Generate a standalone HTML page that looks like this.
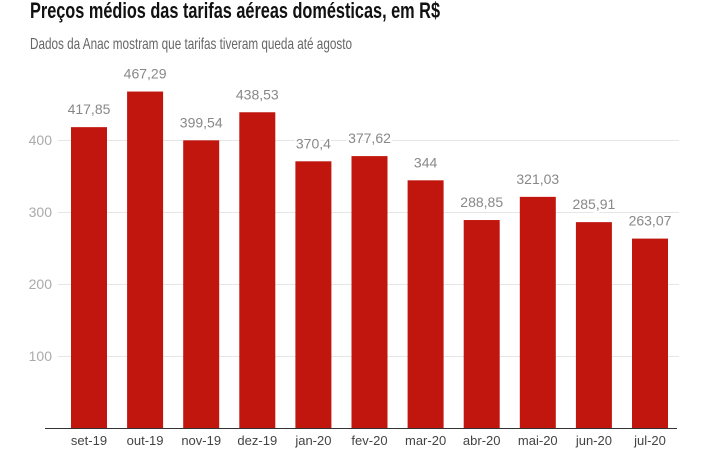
<!DOCTYPE html>
<html><head><meta charset="utf-8"><style>
html,body{margin:0;padding:0;background:#fff;width:701px;height:450px;overflow:hidden}
text{font-family:"Liberation Sans",sans-serif}
</style></head><body>
<svg width="701" height="450" xmlns="http://www.w3.org/2000/svg">
<text x="30" y="18" font-size="22" font-weight="bold" fill="#111" textLength="410" lengthAdjust="spacingAndGlyphs">Preços médios das tarifas aéreas domésticas, em R$</text>
<text x="30" y="49" font-size="16" fill="#666" textLength="322" lengthAdjust="spacingAndGlyphs">Dados da Anac mostram que tarifas tiveram queda até agosto</text>
<g stroke="#e6e6e6" stroke-width="1">
<line x1="58" x2="679" y1="356.5" y2="356.5"/>
<line x1="58" x2="679" y1="284.5" y2="284.5"/>
<line x1="58" x2="679" y1="212.5" y2="212.5"/>
<line x1="58" x2="679" y1="140.5" y2="140.5"/>
</g>
<g font-size="14" fill="#aaa" text-anchor="end">
<text x="52" y="361">100</text>
<text x="52" y="289">200</text>
<text x="52" y="217">300</text>
<text x="52" y="145">400</text>
</g>
<g fill="#c0160d" id="bars"></g>
<g id="labels" font-size="14" fill="#888" text-anchor="middle" stroke="#fff" stroke-width="4" paint-order="stroke"></g>
<g id="cats" font-size="13" fill="#444" text-anchor="middle"></g>
<line x1="45" x2="677" y1="428.5" y2="428.5" stroke="#333" stroke-width="1"/>
</svg>
<script>
var v=[417.85,467.29,399.54,438.53,370.4,377.62,344,288.85,321.03,285.91,263.07];
var c=["set-19","out-19","nov-19","dez-19","jan-20","fev-20","mar-20","abr-20","mai-20","jun-20","jul-20"];
var ns="http://www.w3.org/2000/svg";
var b=document.getElementById("bars"),l=document.getElementById("labels"),k=document.getElementById("cats");
for(var i=0;i<v.length;i++){
 var x=71+i*56.1,h=v[i]*0.72,t=428-h;
 var r=document.createElementNS(ns,"rect");
 r.setAttribute("x",x);r.setAttribute("y",t);r.setAttribute("width",36);r.setAttribute("height",h);b.appendChild(r);
 var tx=document.createElementNS(ns,"text");
 tx.setAttribute("x",x+18);tx.setAttribute("y",t-13);tx.textContent=String(v[i]).replace(".",",");l.appendChild(tx);
 var ct=document.createElementNS(ns,"text");
 ct.setAttribute("x",x+18);ct.setAttribute("y",445);ct.textContent=c[i];k.appendChild(ct);
}
</script>
</body></html>
